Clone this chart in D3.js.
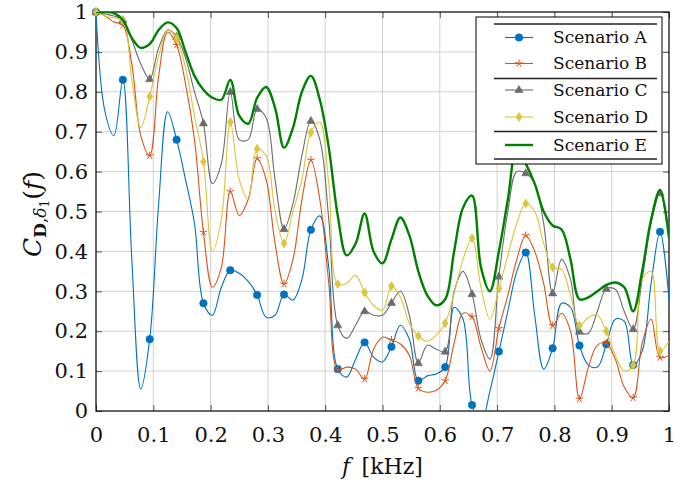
<!DOCTYPE html>
<html>
<head>
<meta charset="utf-8">
<script src="https://cdn.jsdelivr.net/npm/d3@7"></script>
<style>
  body { margin: 0; background: #fff; }
  svg { display: block; }
</style>
</head>
<body>
<svg id="chart" width="699" height="487"></svg>
<script>
const d3 = window.d3

// samples every 1/64 kHz, a mark on every third sample
const step = 1 / 64
const xTicks = [0, 0.1, 0.2, 0.3, 0.4, 0.5, 0.6, 0.7, 0.8, 0.9, 1]
const yTicks = [0, 0.1, 0.2, 0.3, 0.4, 0.5, 0.6, 0.7, 0.8, 0.9, 1]
const names = ['Scenario A', 'Scenario B', 'Scenario C', 'Scenario D', 'Scenario E']

const scenA = [1.0, 0.75, 0.69, 0.83, 0.38, 0.055, 0.18, 0.52, 0.75, 0.68, 0.58, 0.47, 0.27, 0.24, 0.31, 0.353,
  0.345, 0.325, 0.291, 0.235, 0.24, 0.292, 0.278, 0.33, 0.454, 0.489, 0.36, 0.105, 0.085, 0.13, 0.172, 0.135,
  0.123, 0.161, 0.215, 0.18, 0.076, 0.088, 0.093, 0.11, 0.26, 0.23, 0.015, -0.03, 0.05, 0.149, 0.25, 0.35,
  0.397, 0.24, 0.105, 0.157, 0.27, 0.26, 0.164, 0.115, 0.11, 0.167, 0.23, 0.225, 0.115, 0.15, 0.32, 0.449, 0.28]
const scenB = [1.0, 0.99, 0.975, 0.967, 0.87, 0.69, 0.64, 0.84, 0.95, 0.917, 0.82, 0.68, 0.448, 0.31, 0.36, 0.55,
  0.49, 0.53, 0.633, 0.58, 0.42, 0.318, 0.38, 0.53, 0.629, 0.53, 0.32, 0.103, 0.11, 0.105, 0.08, 0.155,
  0.185, 0.178, 0.168, 0.14, 0.057, 0.047, 0.052, 0.076, 0.17, 0.245, 0.236, 0.16, 0.10, 0.207, 0.29, 0.38,
  0.44, 0.40, 0.32, 0.214, 0.245, 0.2, 0.03, 0.11, 0.165, 0.17, 0.13, 0.06, 0.033, 0.17, 0.23, 0.134, 0.14]
const scenC = [1.0, 0.995, 0.99, 0.98, 0.93, 0.87, 0.832, 0.91, 0.955, 0.938, 0.885, 0.80, 0.721, 0.57, 0.62, 0.80,
  0.68, 0.68, 0.757, 0.735, 0.58, 0.456, 0.52, 0.64, 0.727, 0.68, 0.48, 0.215, 0.182, 0.215, 0.25, 0.24,
  0.24, 0.271, 0.30, 0.24, 0.12, 0.165, 0.155, 0.149, 0.30, 0.35, 0.293, 0.18, 0.13, 0.337, 0.50, 0.60,
  0.596, 0.57, 0.47, 0.295, 0.38, 0.33, 0.199, 0.195, 0.25, 0.306, 0.305, 0.25, 0.205, 0.33, 0.47, 0.546, 0.44]
const scenD = [1.0, 0.99, 0.985, 0.98, 0.83, 0.71, 0.788, 0.89, 0.955, 0.934, 0.86, 0.74, 0.625, 0.40, 0.48, 0.724,
  0.58, 0.53, 0.657, 0.64, 0.50, 0.42, 0.50, 0.58, 0.698, 0.724, 0.57, 0.318, 0.32, 0.34, 0.297, 0.265,
  0.252, 0.313, 0.285, 0.22, 0.188, 0.175, 0.19, 0.22, 0.295, 0.38, 0.433, 0.31, 0.23, 0.307, 0.39, 0.47,
  0.52, 0.50, 0.42, 0.36, 0.355, 0.29, 0.214, 0.235, 0.24, 0.20, 0.14, 0.10, 0.115, 0.33, 0.35, 0.15, 0.175]
const scenE = [1.0, 1.0, 0.997, 0.98, 0.935, 0.91, 0.92, 0.955, 0.974, 0.96, 0.90, 0.84, 0.805, 0.785, 0.78, 0.83,
  0.74, 0.72, 0.785, 0.812, 0.76, 0.66, 0.71, 0.80, 0.84, 0.78, 0.66, 0.49, 0.39, 0.42, 0.495, 0.40,
  0.37, 0.43, 0.485, 0.44, 0.35, 0.29, 0.265, 0.28, 0.40, 0.51, 0.54, 0.36, 0.30, 0.40, 0.53, 0.66,
  0.62, 0.57, 0.50, 0.465, 0.455, 0.38, 0.28, 0.285, 0.30, 0.316, 0.322, 0.31, 0.25, 0.35, 0.48, 0.554, 0.434]

const series = [
  {name: names[0], values: scenA, color: '#0072bd', width: 1.1, mark: 'circle'},
  {name: names[1], values: scenB, color: '#d95319', width: 1.1, mark: 'star'},
  {name: names[2], values: scenC, color: '#6b6b6b', width: 1.1, mark: 'triangle'},
  {name: names[3], values: scenD, color: '#dcc43c', width: 1.1, mark: 'diamond'},
  {name: names[4], values: scenE, color: '#008000', width: 2.4, mark: null}
]

const serif = 'DejaVu Serif'
const pLeft = 96, pRight = 669, pTop = 12, pBottom = 411
const x = d3.scaleLinear().domain([0, 1]).range([pLeft, pRight])
const y = d3.scaleLinear().domain([0, 1]).range([pBottom, pTop])
const svg = d3.select('#chart')
const fmt = d => String(+d.toFixed(1))

// grid
svg.append('g').selectAll('line').data(xTicks.slice(1, -1)).enter().append('line')
  .attr('x1', d => x(d)).attr('x2', d => x(d)).attr('y1', pTop).attr('y2', pBottom)
  .attr('stroke', '#d2d2d2').attr('stroke-width', 1)
svg.append('g').selectAll('line').data(yTicks.slice(1, -1)).enter().append('line')
  .attr('y1', d => y(d)).attr('y2', d => y(d)).attr('x1', pLeft).attr('x2', pRight)
  .attr('stroke', '#d2d2d2').attr('stroke-width', 1)

// axes, ticks pointing inwards on all four sides
const gx = svg.append('g').attr('transform', `translate(0,${pBottom})`)
  .call(d3.axisBottom(x).tickValues(xTicks).tickFormat(fmt).tickSize(-6).tickPadding(16))
const gy = svg.append('g').attr('transform', `translate(${pLeft},0)`)
  .call(d3.axisLeft(y).tickValues(yTicks).tickFormat(fmt).tickSize(-6).tickPadding(8))
svg.append('g').attr('transform', `translate(0,${pTop})`)
  .call(d3.axisTop(x).tickValues(xTicks).tickFormat('').tickSize(-6))
svg.append('g').attr('transform', `translate(${pRight},0)`)
  .call(d3.axisRight(y).tickValues(yTicks).tickFormat('').tickSize(-6))
svg.selectAll('.domain').remove()
svg.selectAll('g').attr('font-family', null)
svg.selectAll('.tick line').attr('stroke', '#555')
svg.selectAll('.tick text').style('font-family', serif).style('font-size', '21px').attr('fill', '#111')

svg.append('rect').attr('x', pLeft).attr('y', pTop)
  .attr('width', pRight - pLeft).attr('height', pBottom - pTop)
  .attr('fill', 'none').attr('stroke', '#000').attr('stroke-width', 1.2)

// axis labels
const xl = svg.append('text').attr('x', (pLeft + pRight) / 2).attr('y', 474)
  .attr('text-anchor', 'middle').style('font-family', serif).style('font-size', '22px').attr('fill', '#111')
xl.append('tspan').style('font-style', 'italic').text('f')
xl.append('tspan').text('\u2009 [kHz]')

const yl = svg.append('text').attr('transform', 'translate(41,214) rotate(-90)')
  .attr('text-anchor', 'middle').style('font-family', serif).style('font-size', '25px').attr('fill', '#111')
yl.append('tspan').style('font-style', 'italic').text('C')
yl.append('tspan').attr('dy', 5).style('font-size', '17px').style('font-weight', 'bold').text('D')
yl.append('tspan').style('font-size', '17px').text(',')
yl.append('tspan').style('font-size', '17px').style('font-style', 'italic').text('\u03b4')
yl.append('tspan').attr('dy', 3).style('font-size', '12px').text('1')
yl.append('tspan').attr('dy', -8).text('(')
yl.append('tspan').style('font-style', 'italic').text('f')
yl.append('tspan').text(')')

// marks
function markPath (shape) {
  if (shape === 'circle') return d3.symbol(d3.symbolCircle, 44)()
  if (shape === 'triangle') return 'M0,-4.5L4.1,2.6L-4.1,2.6Z'
  if (shape === 'diamond') return 'M0,-4.6L3,0L0,4.6L-3,0Z'
  if (shape === 'star') {
    return d3.range(5).map(i => {
      const a = (-90 + 72 * i) * Math.PI / 180
      return `M0,0L${(4 * Math.cos(a)).toFixed(2)},${(4 * Math.sin(a)).toFixed(2)}`
    }).join('')
  }
  return null
}
function drawMark (g, s, px, py) {
  const p = g.append('path').attr('d', markPath(s.mark))
    .attr('transform', `translate(${px},${py})`)
  if (s.mark === 'star') p.attr('fill', 'none').attr('stroke', s.color).attr('stroke-width', 1)
  else p.attr('fill', s.color).attr('stroke', s.color).attr('stroke-width', 0.6)
}

svg.append('clipPath').attr('id', 'plotclip').append('rect')
  .attr('x', pLeft).attr('y', pTop).attr('width', pRight - pLeft).attr('height', pBottom - pTop)

const line = d3.line()
  .x((d, i) => x(i * step))
  .y(d => y(d))
  .curve(d3.curveCatmullRom.alpha(0.5))

series.forEach(s => {
  const g = svg.append('g')
  g.append('path').datum(s.values)
    .attr('d', line)
    .attr('clip-path', 'url(#plotclip)')
    .attr('fill', 'none')
    .attr('stroke', s.color)
    .attr('stroke-width', s.width)
    .attr('stroke-linejoin', 'round')
  if (s.mark) {
    s.values.forEach((v, i) => {
      if (i % 3 === 0 && v >= 0) drawMark(g, s, x(i * step), y(v))
    })
  }
})

// legend
const lg = svg.append('g')
lg.append('rect').attr('x', 476).attr('y', 17).attr('width', 186).attr('height', 147)
  .attr('fill', '#fff').attr('stroke', '#000').attr('stroke-width', 1)
const rules = [24, 78.5, 131.5, 159]
lg.selectAll('.rule').data(rules).enter().append('line')
  .attr('x1', 494).attr('x2', 657).attr('y1', d => d).attr('y2', d => d)
  .attr('stroke', '#222').attr('stroke-width', 1.3)
const rowY = [37.5, 63.5, 90, 117, 145]
series.forEach((s, i) => {
  const ry = rowY[i]
  lg.append('line').attr('x1', 505).attr('x2', 533).attr('y1', ry).attr('y2', ry)
    .attr('stroke', s.color).attr('stroke-width', s.width)
  if (s.mark) drawMark(lg, s, 519, ry)
  lg.append('text').attr('x', 553).attr('y', ry).attr('dy', '0.33em')
    .style('font-family', serif).style('font-size', '17px').attr('fill', '#111').text(s.name)
})
</script>
</body>
</html>
